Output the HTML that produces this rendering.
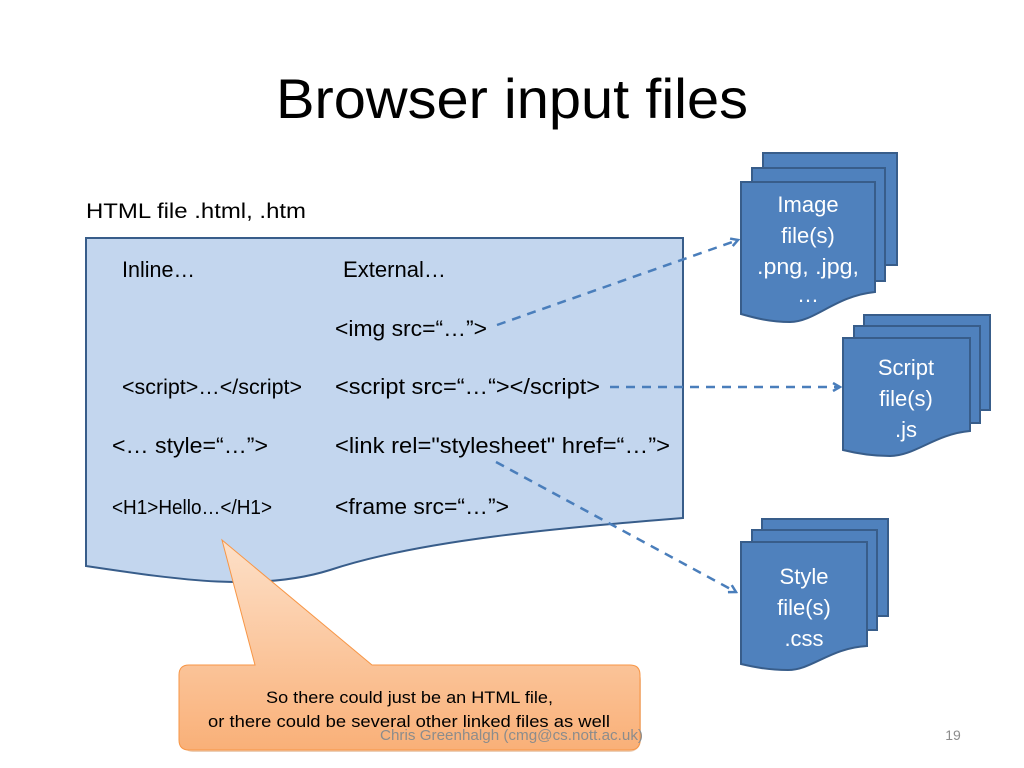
<!DOCTYPE html>
<html><head><meta charset="utf-8"><style>
body{margin:0;width:1024px;height:768px;background:#fff;overflow:hidden;font-family:"Liberation Sans",sans-serif}
svg{position:absolute;left:0;top:0}
text{font-family:"Liberation Sans",sans-serif}
</style></head><body>
<svg width="1024" height="768" viewBox="0 0 1024 768">
<defs>
<linearGradient id="og" x1="0" y1="0" x2="0" y2="1"><stop offset="0" stop-color="#fde0c8"/><stop offset="1" stop-color="#f9b078"/></linearGradient>
<marker id="ar" markerWidth="10" markerHeight="10" refX="8" refY="5" orient="auto" markerUnits="userSpaceOnUse"><path d="M1,1 L8,5 L1,9" fill="none" stroke="#4a7ebb" stroke-width="2.5"/></marker>
</defs>
<text x="276" y="118" font-size="56" textLength="472" lengthAdjust="spacingAndGlyphs" fill="#000">Browser input files</text>
<text x="86" y="218" font-size="21" textLength="220" lengthAdjust="spacingAndGlyphs">HTML file .html, .htm</text>
<path d="M86,238 H683 V518 C560,528 420,540 330,570 C260,592 180,580 86,566 Z" fill="#c3d6ee" stroke="#385d8a" stroke-width="2"/>
<g font-size="22" fill="#000">
<text x="122" y="277" textLength="73" lengthAdjust="spacingAndGlyphs">Inline…</text>
<text x="343" y="277" textLength="103" lengthAdjust="spacingAndGlyphs">External…</text>
<text x="335" y="336" textLength="152" lengthAdjust="spacingAndGlyphs">&lt;img src=“…”&gt;</text>
<text x="122" y="394" font-size="21" textLength="180" lengthAdjust="spacingAndGlyphs">&lt;script&gt;…&lt;/script&gt;</text>
<text x="335" y="394" textLength="265" lengthAdjust="spacingAndGlyphs">&lt;script src=“…“&gt;&lt;/script&gt;</text>
<text x="112" y="453" textLength="156" lengthAdjust="spacingAndGlyphs">&lt;… style=“…”&gt;</text>
<text x="335" y="453" textLength="335" lengthAdjust="spacingAndGlyphs">&lt;link rel="stylesheet" href=“…”&gt;</text>
<text x="112" y="514" font-size="20" textLength="160" lengthAdjust="spacingAndGlyphs">&lt;H1&gt;Hello…&lt;/H1&gt;</text>
<text x="335" y="514" textLength="174" lengthAdjust="spacingAndGlyphs">&lt;frame src=“…”&gt;</text>
</g>
<g stroke="#4a7ebb" stroke-width="2.5" stroke-dasharray="9,7" fill="none">
<path d="M497,325 L738,240" marker-end="url(#ar)"/>
<path d="M610,387 L840,387" marker-end="url(#ar)"/>
<path d="M496,462 L736,592" marker-end="url(#ar)"/>
</g>
<g fill="#4f81bd" stroke="#385d8a" stroke-width="2">
<rect x="763" y="153" width="134" height="112"/>
<rect x="752" y="168" width="133" height="113"/>
<path d="M741,182 H875 V292 C835,296 815,322 790,322 C770,322 755,318 741,314 Z"/>
<rect x="864" y="315" width="126" height="95"/>
<rect x="854" y="326" width="126" height="97"/>
<path d="M843,338 H970 V431 C935,434 915,456 890,456 C870,456 855,453 843,450 Z"/>
<rect x="762" y="519" width="126" height="97"/>
<rect x="752" y="530" width="125" height="100"/>
<path d="M741,542 H867 V646 C830,648 812,670 788,670 C768,670 754,667 741,664 Z"/>
</g>
<g fill="#fff" font-size="22" text-anchor="middle">
<text x="808" y="212">Image</text><text x="808" y="243">file(s)</text><text x="808" y="274" textLength="102" lengthAdjust="spacingAndGlyphs">.png, .jpg,</text><text x="808" y="302">…</text>
<text x="906" y="375">Script</text><text x="906" y="406">file(s)</text><text x="906" y="437">.js</text>
<text x="804" y="584">Style</text><text x="804" y="615">file(s)</text><text x="804" y="646">.css</text>
</g>
<rect x="181" y="668" width="460" height="84" rx="12" fill="#d9a070" opacity="0.5"/>
<path d="M222,540 L372,665 L630,665 Q640,665 640,675 L640,740 Q640,750 630,750 L189,750 Q179,750 179,740 L179,675 Q179,665 189,665 L255,665 Z" fill="url(#og)" stroke="#f79646" stroke-width="1"/>
<g font-size="17" fill="#000">
<text x="266" y="703" textLength="287" lengthAdjust="spacingAndGlyphs">So there could just be an HTML file,</text>
<text x="208" y="727" textLength="402" lengthAdjust="spacingAndGlyphs">or there could be several other linked files as well</text>
</g>
<text x="380" y="740" font-size="15" textLength="263" lengthAdjust="spacingAndGlyphs" fill="#8c8c8c">Chris Greenhalgh (cmg@cs.nott.ac.uk)</text>
<text x="953" y="740" font-size="14" text-anchor="middle" fill="#8c8c8c">19</text>
</svg>
</body></html>
